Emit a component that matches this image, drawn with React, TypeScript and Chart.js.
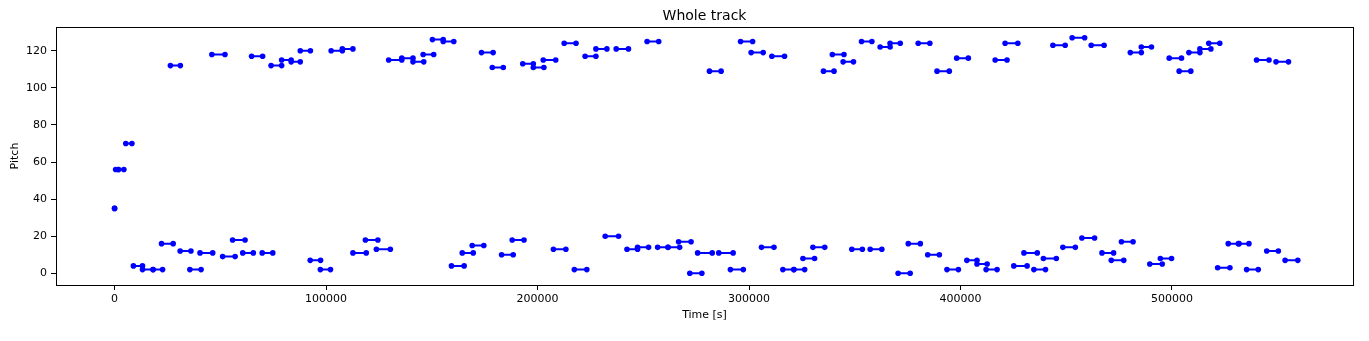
import React, { useEffect, useRef } from "react";
import { Chart, registerables } from "chart.js";

Chart.register(...registerables);

const noteStarts = [
  0, 500, 1800, 5300, 8900, 13200, 18200, 22200, 26400, 31000,
  35600, 40400, 46000, 51100, 55800, 60600, 64800, 69800, 74000, 79000,
  83500, 87800, 92500, 97300, 102400, 107700, 112700, 118600, 123800, 129600,
  135800, 141100, 145900, 150300, 155400, 159300, 164400, 169100, 173500, 178600,
  183000, 188000, 193000, 198000, 202700, 207500, 212600, 217400, 222500, 227600,
  232000, 237200, 242300, 247300, 251800, 256800, 261700, 266700, 272000, 275700,
  281300, 285700, 291200, 296000, 301000, 305900, 310800, 316000, 321200, 325500,
  330200, 335200, 339400, 344500, 348600, 353200, 357300, 362000, 366700, 370500,
  375300, 380000, 384500, 388900, 393600, 398200, 403000, 407800, 412100, 416400,
  421100, 425200, 430000, 434700, 439200, 443700, 448400, 452800, 457400, 461800,
  466900, 471300, 476100, 480300, 485500, 489500, 494500, 498700, 503400, 508000,
  513200, 517400, 521600, 526600, 531400, 535300, 540000, 544800, 549200, 553500,
];

const noteEnds = [
  0, 1800, 4400, 8200, 13200, 18200, 22700, 27700, 31100, 36100,
  40900, 46400, 52200, 57000, 61700, 65600, 70000, 74800, 79000, 83500,
  87800, 92600, 97400, 102100, 107700, 112700, 119000, 124500, 130400, 135800,
  141100, 146200, 150900, 155400, 160400, 165300, 169600, 174600, 179000, 183800,
  188500, 193600, 198000, 203000, 208600, 213400, 218200, 223300, 227600, 232800,
  238300, 243000, 247300, 252500, 257300, 261700, 267200, 272600, 277700, 282600,
  286800, 292500, 297300, 301700, 306700, 311800, 316800, 321200, 326300, 331000,
  335800, 340200, 344900, 349400, 353600, 358100, 362800, 366700, 371500, 376200,
  381000, 385500, 390000, 394700, 399000, 403700, 407800, 412600, 417300, 422000,
  427100, 431500, 436300, 440200, 445300, 449500, 454300, 458700, 463400, 467900,
  472400, 477200, 481600, 485500, 490300, 495400, 499800, 504500, 508900, 513200,
  518400, 522600, 527400, 531700, 536400, 540800, 545900, 550300, 555100, 559500,
];

const notePitches = [
  35, 56, 56, 70, 4, 2, 2, 16, 112, 12,
  2, 11, 118, 9, 18, 11, 117, 11, 112, 115,
  114, 120, 7, 2, 120, 121, 11, 18, 13, 115,
  116, 114, 118, 126, 125, 4, 11, 15, 119, 111,
  10, 18, 113, 111, 115, 13, 124, 2, 117, 121,
  20, 121, 13, 14, 125, 14, 14, 17, 0, 11,
  109, 11, 2, 125, 119, 14, 117, 2, 2, 8,
  14, 109, 118, 114, 13, 125, 13, 122, 124, 0,
  16, 124, 10, 109, 2, 116, 7, 5, 2, 115,
  124, 4, 11, 2, 8, 123, 14, 127, 19, 123,
  11, 7, 17, 119, 122, 5, 8, 116, 109, 119,
  121, 124, 3, 16, 16, 2, 115, 12, 114, 7,
];

const xTicks = [0, 100000, 200000, 300000, 400000, 500000];
const yTicks = [0, 20, 40, 60, 80, 100, 120];

const titleText = "Whole track";
const xLabel = "Time [s]";
const yLabel = "Pitch";

const FONT = "'DejaVu Sans', sans-serif";

export default function App() {
  const ref = useRef<HTMLCanvasElement | null>(null);

  useEffect(() => {
    document.body.style.margin = "0";
    const canvas = ref.current;
    if (!canvas) return;

    const pts: any[] = [];
    for (let i = 0; i < noteStarts.length; i++) {
      pts.push({ x: noteStarts[i], y: notePitches[i] });
      pts.push({ x: noteEnds[i], y: notePitches[i] });
      pts.push({ x: noteEnds[i], y: null });
    }

    const spines = {
      id: "spines",
      afterDraw(chart: any) {
        const { ctx, chartArea } = chart;
        ctx.save();
        ctx.strokeStyle = "#000";
        ctx.lineWidth = 1;
        ctx.strokeRect(
          Math.round(chartArea.left) + 0.5,
          Math.round(chartArea.top) + 0.5,
          Math.round(chartArea.right - chartArea.left),
          Math.round(chartArea.bottom - chartArea.top)
        );
        ctx.restore();
      },
    };

    const chart = new Chart(canvas, {
      type: "line",
      data: {
        datasets: [
          {
            data: pts,
            borderColor: "#0000ff",
            backgroundColor: "#0000ff",
            borderWidth: 2,
            pointRadius: 2.8,
            pointBorderWidth: 0,
            pointHoverRadius: 2.8,
            spanGaps: false,
            fill: false,
            tension: 0,
          },
        ],
      },
      options: {
        responsive: false,
        animation: false,
        events: [],
        layout: { padding: { left: 0, right: 16, top: 0, bottom: 0 } },
        plugins: {
          legend: { display: false },
          tooltip: { enabled: false },
          title: {
            display: true,
            text: titleText,
            fullSize: false,
            color: "#000",
            font: { family: FONT, size: 14, weight: "normal", lineHeight: 1.2 },
            padding: { top: 7.6, bottom: 2.6 },
          },
        },
        scales: {
          x: {
            type: "linear",
            min: -27700,
            max: 585600,
            afterFit(scale: any) {
              scale.height = 56;
            },
            afterBuildTicks(scale: any) {
              scale.ticks = xTicks.map((v) => ({ value: v }));
            },
            grid: {
              display: true,
              drawOnChartArea: false,
              drawTicks: true,
              tickLength: 5,
              tickColor: "#000",
              tickWidth: 1,
            },
            border: { display: true, color: "#000", width: 1 },
            ticks: {
              color: "#000",
              font: { family: FONT, size: 11 },
              padding: 3,
              maxRotation: 0,
              autoSkip: false,
              callback: (v: any) => String(v),
            },
            title: {
              display: true,
              text: xLabel,
              color: "#000",
              font: { family: FONT, size: 11 },
              padding: { top: 0, bottom: 19 },
            },
          },
          y: {
            type: "linear",
            min: -6.3,
            max: 132.8,
            afterFit(scale: any) {
              scale.width = 56;
            },
            afterBuildTicks(scale: any) {
              scale.ticks = yTicks.map((v) => ({ value: v }));
            },
            grid: {
              display: true,
              drawOnChartArea: false,
              drawTicks: true,
              tickLength: 5,
              tickColor: "#000",
              tickWidth: 1,
            },
            border: { display: true, color: "#000", width: 1 },
            ticks: {
              color: "#000",
              font: { family: FONT, size: 11 },
              padding: 4,
              autoSkip: false,
              callback: (v: any) => String(v),
            },
            title: {
              display: true,
              text: yLabel,
              color: "#000",
              font: { family: FONT, size: 11 },
              padding: { top: 8.5, bottom: 0 },
            },
          },
        },
      },
      plugins: [spines],
    });

    return () => {
      chart.destroy();
    };
  }, []);

  return (
    <canvas
      ref={ref}
      width={1369}
      height={341}
      style={{ display: "block", width: 1369, height: 341 }}
    />
  );
}
